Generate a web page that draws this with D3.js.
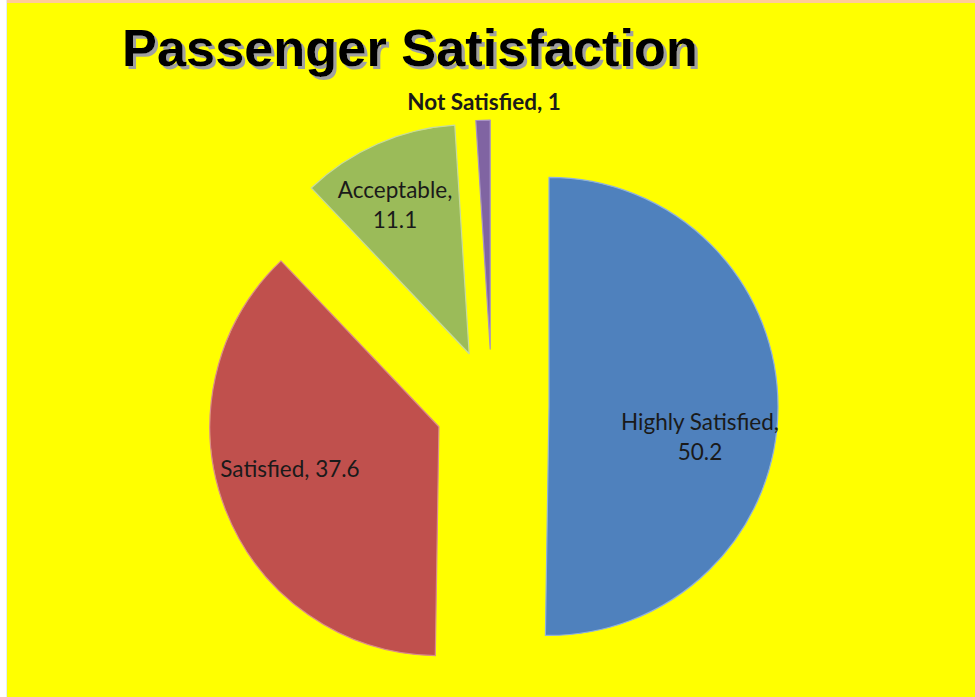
<!DOCTYPE html>
<html>
<head>
<meta charset="utf-8">
<script src="https://cdn.jsdelivr.net/npm/d3@7"></script>
<style>
  html, body { margin: 0; padding: 0; background: #ffffff; }
  svg { display: block; }
</style>
</head>
<body>
<svg id="chart" width="975" height="697"></svg>
<script>
// ---- data ----
const categories = ["Highly Satisfied", "Satisfied", "Acceptable", "Not Satisfied"];
const values = [50.2, 37.6, 11.1, 1];
const valueLabels = ["50.2", "37.6", "11.1", "1"];
const colors = ["#4F81BD", "#C0504D", "#9BBB59", "#8064A2"];
const edgeColors = ["#8FB1DD", "#DA8C8A", "#C6DA9E", "#A893C4"];
const title = "Passenger Satisfaction";

// ---- layout ----
const W = 975, H = 697;
const cx = 492, cy = 406, R = 229, explode = 57;

const svg = d3.select("#chart");

const defs = svg.append("defs");
const f = defs.append("filter").attr("id", "shadow")
  .attr("x", "-5%").attr("y", "-20%").attr("width", "110%").attr("height", "140%");
f.append("feOffset").attr("in", "SourceAlpha").attr("dx", 2.5).attr("dy", 2.5).attr("result", "off");
f.append("feFlood").attr("flood-color", "#A0A0A0").attr("result", "col");
f.append("feComposite").attr("in", "col").attr("in2", "off").attr("operator", "in").attr("result", "sh");
const fm = f.append("feMerge");
fm.append("feMergeNode").attr("in", "sh");
fm.append("feMergeNode").attr("in", "SourceGraphic");

// frame
svg.append("rect").attr("x", 0).attr("y", 0).attr("width", W).attr("height", H).attr("fill", "#ffffff");
svg.append("rect").attr("x", 6).attr("y", 0).attr("width", 1).attr("height", H).attr("fill", "#E4EEF0");
svg.append("rect").attr("x", 7).attr("y", 0).attr("width", W - 7).attr("height", H).attr("fill", "#FFFF00");
svg.append("rect").attr("x", 7).attr("y", 0).attr("width", W - 7).attr("height", 3).attr("fill", "#FFCC99");

// title with shadow
svg.append("text")
  .attr("x", 122).attr("y", 66)
  .attr("font-family", "'Liberation Sans', Arial, sans-serif")
  .attr("font-weight", "bold")
  .attr("font-size", 52)
  .attr("textLength", 576)
  .attr("lengthAdjust", "spacingAndGlyphs")
  .attr("fill", "#000000")
  .attr("filter", "url(#shadow)")
  .text(title);

// pie
const pie = d3.pie().sort(null).value(d => d.v);
const data = categories.map((c, i) => ({ c, v: values[i], label: valueLabels[i], i }));
const arcs = pie(data);
const arc = d3.arc().innerRadius(0).outerRadius(R);

const g = svg.append("g").attr("transform", `translate(${cx},${cy})`);
arcs.forEach(a => {
  const mid = (a.startAngle + a.endAngle) / 2;
  const ox = Math.sin(mid) * explode, oy = -Math.cos(mid) * explode;
  g.append("path")
    .attr("d", arc(a))
    .attr("transform", `translate(${ox},${oy})`)
    .attr("fill", colors[a.data.i])
    .attr("stroke", edgeColors[a.data.i])
    .attr("stroke-width", 1.2)
    .attr("stroke-linejoin", "round");
});

// labels
const labelFont = "Lato, 'Open Sans', sans-serif";
const labelSpecs = [
  { x: 700, y: 430, bold: false, wrap: true },
  { x: 290, y: 477, bold: false, wrap: false },
  { x: 395, y: 198, bold: false, wrap: true },
  { x: 484, y: 110, bold: true, wrap: false }
];
arcs.forEach((a, k) => {
  const s = labelSpecs[k];
  const t = svg.append("text")
    .attr("x", s.x).attr("y", s.y)
    .attr("text-anchor", "middle")
    .attr("font-family", labelFont)
    .attr("font-size", 22.5)
    .attr("font-weight", s.bold ? "bold" : "normal")
    .attr("fill", "#1a1a1a");
  const txt = s.wrap ? [a.data.c + ",", a.data.label] : [a.data.c + ", " + a.data.label];
  txt.forEach((line, j) => {
    t.append("tspan").attr("x", s.x).attr("dy", j === 0 ? 0 : 30).text(line);
  });
});
</script>
</body>
</html>
